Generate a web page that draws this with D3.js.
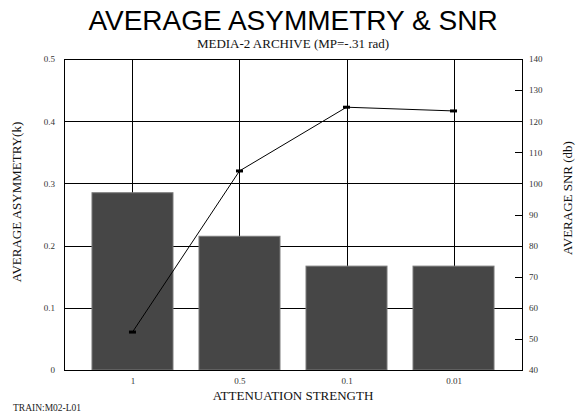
<!DOCTYPE html>
<html>
<head>
<meta charset="utf-8">
<script src="https://cdn.jsdelivr.net/npm/d3@7"></script>
<style>
  html, body { margin: 0; padding: 0; background: #fff; }
  svg { display: block; }
</style>
</head>
<body>
<svg id="chart" width="576" height="417"></svg>
<script>
// Attenuation strengths along the x axis
const categories = ["1", "0.5", "0.1", "0.01"];
// Average asymmetry (k) per strength — bars, left axis
const asymmetry = [0.285, 0.215, 0.167, 0.167];
// Average SNR (db) per strength — line, right axis
const snr = [52.2, 104.0, 124.5, 123.3];
// Axis tick values
const leftTicks = [0, 0.1, 0.2, 0.3, 0.4, 0.5];
const rightTicks = [40, 50, 60, 70, 80, 90, 100, 110, 120, 130, 140];

const svg = d3.select("#chart");
const plot = { left: 64, right: 522, top: 59, bottom: 370 };
const serif = "'Liberation Serif', 'Times New Roman', serif";

const x = d3.scalePoint().domain(categories).range([plot.left, plot.right]).padding(0.64);
const yL = d3.scaleLinear().domain([0, 0.5]).range([plot.bottom, plot.top]);
const yR = d3.scaleLinear().domain([40, 140]).range([plot.bottom, plot.top]);
const barW = x.step() * 0.757;

// Titles
svg.append("text")
  .attr("x", 293).attr("y", 30)
  .attr("text-anchor", "middle")
  .attr("font-family", "'Liberation Sans', Arial, sans-serif")
  .attr("font-size", 28)
  .attr("fill", "#000")
  .text("AVERAGE ASYMMETRY & SNR");

svg.append("text")
  .attr("x", 293).attr("y", 48)
  .attr("text-anchor", "middle")
  .attr("font-family", serif)
  .attr("font-size", 13)
  .attr("fill", "#111")
  .text("MEDIA-2 ARCHIVE (MP=-.31 rad)");

// Grid: horizontal at left-axis ticks, vertical at each category
const grid = svg.append("g").attr("stroke", "#000").attr("stroke-width", 1).attr("shape-rendering", "crispEdges");
grid.selectAll("line.h").data(leftTicks).join("line")
  .attr("class", "h")
  .attr("x1", plot.left).attr("x2", plot.right)
  .attr("y1", d => Math.round(yL(d)) + 0.5).attr("y2", d => Math.round(yL(d)) + 0.5);
grid.selectAll("line.v").data(categories).join("line")
  .attr("class", "v")
  .attr("x1", d => Math.round(x(d)) + 0.5).attr("x2", d => Math.round(x(d)) + 0.5)
  .attr("y1", plot.top).attr("y2", plot.bottom);

// Bars
svg.append("g").selectAll("rect").data(categories).join("rect")
  .attr("x", d => x(d) - barW / 2)
  .attr("width", barW)
  .attr("y", (d, i) => yL(asymmetry[i]))
  .attr("height", (d, i) => yL(0) - yL(asymmetry[i]))
  .attr("fill", "#464646")
  .attr("stroke", "#7a7a7a")
  .attr("stroke-width", 1);

// Frame
svg.append("rect")
  .attr("x", plot.left + 0.5).attr("y", plot.top + 0.5)
  .attr("width", plot.right - plot.left).attr("height", plot.bottom - plot.top)
  .attr("fill", "none").attr("stroke", "#000").attr("stroke-width", 1)
  .attr("shape-rendering", "crispEdges");

// SNR line and markers
const pts = categories.map((c, i) => [x(c), yR(snr[i])]);
svg.append("path")
  .attr("d", d3.line()(pts))
  .attr("fill", "none").attr("stroke", "#000").attr("stroke-width", 1);
svg.append("g").selectAll("rect").data(pts).join("rect")
  .attr("x", d => d[0] - 3.5).attr("y", d => d[1] - 1.5)
  .attr("width", 7).attr("height", 3)
  .attr("fill", "#000");

// Axes
function styleAxis(g) {
  g.select(".domain").remove();
  g.selectAll("text").attr("font-family", serif).attr("font-size", 9).attr("fill", "#333");
}

svg.append("g")
  .attr("transform", `translate(${plot.left},0)`)
  .call(d3.axisLeft(yL).tickValues(leftTicks).tickFormat(d3.format("~g")).tickSize(0).tickPadding(9))
  .call(styleAxis);

svg.append("g")
  .attr("transform", `translate(${plot.right},0)`)
  .call(d3.axisRight(yR).tickValues(rightTicks).tickSizeInner(-7).tickSizeOuter(0).tickPadding(7))
  .call(styleAxis)
  .call(g => g.selectAll("line").attr("stroke", "#000").attr("shape-rendering", "crispEdges"));

svg.append("g")
  .attr("transform", `translate(0,${plot.bottom})`)
  .call(d3.axisBottom(x).tickSize(0).tickPadding(8))
  .call(styleAxis);

// Axis titles
svg.append("text")
  .attr("x", 293).attr("y", 400)
  .attr("text-anchor", "middle")
  .attr("font-family", serif).attr("font-size", 13).attr("fill", "#111")
  .text("ATTENUATION STRENGTH");

svg.append("text")
  .attr("transform", "translate(21,202) rotate(-90)")
  .attr("text-anchor", "middle")
  .attr("font-family", serif).attr("font-size", 13).attr("fill", "#111")
  .text("AVERAGE ASYMMETRY(k)");

svg.append("text")
  .attr("transform", "translate(572,198) rotate(-90)")
  .attr("text-anchor", "middle")
  .attr("font-family", serif).attr("font-size", 13).attr("fill", "#111")
  .text("AVERAGE SNR (db)");

// Footnote
svg.append("text")
  .attr("x", 13).attr("y", 411)
  .attr("font-family", serif).attr("font-size", 9.5).attr("fill", "#222")
  .text("TRAIN:M02-L01");
</script>
</body>
</html>
